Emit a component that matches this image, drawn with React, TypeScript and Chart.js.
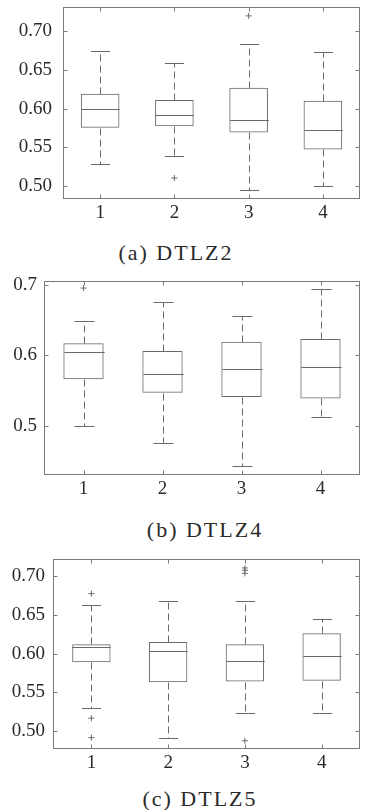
import React, { useEffect, useRef } from 'react';
import { Chart, registerables } from 'chart.js';

Chart.register(...registerables);

const categories = ['1', '2', '3', '4'];

// (a) DTLZ2
const aLow = [0.528, 0.539, 0.494, 0.500];
const aQ1 = [0.575, 0.577, 0.569, 0.547];
const aMed = [0.600, 0.592, 0.585, 0.572];
const aQ3 = [0.619, 0.611, 0.627, 0.610];
const aHigh = [0.675, 0.659, 0.683, 0.673];
const aOutCat = ['2', '3'];
const aOutVal = [0.510, 0.720];
const aTicks = [0.50, 0.55, 0.60, 0.65, 0.70];

// (b) DTLZ4
const bLow = [0.500, 0.476, 0.444, 0.513];
const bQ1 = [0.566, 0.547, 0.541, 0.539];
const bMed = [0.604, 0.574, 0.581, 0.583];
const bQ3 = [0.617, 0.606, 0.619, 0.623];
const bHigh = [0.649, 0.675, 0.655, 0.694];
const bOutCat = ['1'];
const bOutVal = [0.695];
const bTicks = [0.5, 0.6, 0.7];

// (c) DTLZ5
const cLow = [0.530, 0.491, 0.524, 0.524];
const cQ1 = [0.589, 0.563, 0.564, 0.565];
const cMed = [0.609, 0.603, 0.590, 0.597];
const cQ3 = [0.612, 0.615, 0.612, 0.626];
const cHigh = [0.662, 0.668, 0.667, 0.644];
const cOutCat = ['1', '1', '1', '3', '3', '3', '3'];
const cOutVal = [0.677, 0.517, 0.492, 0.710, 0.707, 0.703, 0.488];
const cTicks = [0.50, 0.55, 0.60, 0.65, 0.70];

const titles = ['(a) DTLZ2', '(b) DTLZ4', '(c) DTLZ5'];

const LINE = '#6a6a6a';
const FRAME = '#7a7a7a';
const TEXT = '#2a2a2a';
const FONT = 'Liberation Serif, DejaVu Serif, serif';

type Panel = {
  low: number[]; q1: number[]; med: number[]; q3: number[]; high: number[];
  outCat: string[]; outVal: number[]; ticks: number[]; decimals: number;
  yMin: number; yMax: number;
  top: number; height: number; padTop: number; padRight: number;
  yWidth: number; xHeight: number; barPct: number; labelPad: number;
  title: string; titleTop: number; titleCenter: number;
};

const panels: Panel[] = [
  {
    low: aLow, q1: aQ1, med: aMed, q3: aQ3, high: aHigh, outCat: aOutCat, outVal: aOutVal,
    ticks: aTicks, decimals: 2, yMin: 0.4828, yMax: 0.7315,
    top: 0, height: 228, padTop: 7, padRight: 1, yWidth: 63, xHeight: 29, barPct: 0.52, labelPad: 11,
    title: titles[0], titleTop: 240, titleCenter: 176,
  },
  {
    low: bLow, q1: bQ1, med: bMed, q3: bQ3, high: bHigh, outCat: bOutCat, outVal: bOutVal,
    ticks: bTicks, decimals: 1, yMin: 0.4307, yMax: 0.705,
    top: 268, height: 234, padTop: 13, padRight: 1, yWidth: 44, xHeight: 27, barPct: 0.51, labelPad: 7,
    title: titles[1], titleTop: 517, titleCenter: 205,
  },
  {
    low: cLow, q1: cQ1, med: cMed, q3: cQ3, high: cHigh, outCat: cOutCat, outVal: cOutVal,
    ticks: cTicks, decimals: 2, yMin: 0.4774, yMax: 0.7215,
    top: 545, height: 232, padTop: 14, padRight: 2, yWidth: 53, xHeight: 28, barPct: 0.5, labelPad: 8,
    title: titles[2], titleTop: 786, titleCenter: 200,
  },
];

function makePlugin(p: Panel) {
  return {
    id: 'boxExtras',
    afterDatasetsDraw(chart: any) {
      const { ctx, chartArea: ca, scales } = chart;
      const x = scales.x;
      const y = scales.y;
      const meta = chart.getDatasetMeta(0);
      const seg = (x1: number, y1: number, x2: number, y2: number) => {
        ctx.beginPath();
        ctx.moveTo(x1, y1);
        ctx.lineTo(x2, y2);
        ctx.stroke();
      };
      ctx.save();
      ctx.lineWidth = 1;
      ctx.strokeStyle = LINE;
      categories.forEach((c, i) => {
        const el = meta.data[i];
        const cx = Math.round(el.x) + 0.5;
        const hw = el.width / 2;
        const py = (v: number) => Math.round(y.getPixelForValue(v)) + 0.5;
        seg(cx - hw, py(p.med[i]), cx + hw, py(p.med[i]));
        ctx.setLineDash([7, 4]);
        seg(cx, py(p.q3[i]), cx, py(p.high[i]));
        seg(cx, py(p.q1[i]), cx, py(p.low[i]));
        ctx.setLineDash([]);
        const cw = hw / 2;
        seg(cx - cw, py(p.high[i]), cx + cw, py(p.high[i]));
        seg(cx - cw, py(p.low[i]), cx + cw, py(p.low[i]));
      });
      // frame
      ctx.strokeStyle = FRAME;
      const l = Math.round(ca.left) + 0.5;
      const r = Math.round(ca.right) - 0.5;
      const t = Math.round(ca.top) + 0.5;
      const b = Math.round(ca.bottom) - 0.5;
      ctx.strokeRect(l, t, r - l, b - t);
      // inward ticks
      const TL = 4;
      y.ticks.forEach((tk: any, i: number) => {
        const yy = Math.round(y.getPixelForTick(i)) + 0.5;
        seg(l, yy, l + TL, yy);
        seg(r, yy, r - TL, yy);
      });
      x.ticks.forEach((tk: any, i: number) => {
        const xx = Math.round(x.getPixelForTick(i)) + 0.5;
        seg(xx, b, xx, b - TL);
        seg(xx, t, xx, t + TL);
      });
      ctx.restore();
    },
  };
}

function BoxChart({ p }: { p: Panel }) {
  const ref = useRef<HTMLCanvasElement>(null);
  useEffect(() => {
    const canvas = ref.current!;
    const chart = new Chart(canvas, {
      type: 'bar',
      data: {
        labels: categories,
        datasets: [
          {
            type: 'bar',
            data: p.q1.map((q, i) => [q, p.q3[i]]) as any,
            backgroundColor: 'rgba(255,255,255,0)',
            borderColor: LINE,
            borderWidth: 1,
            borderSkipped: false,
            barPercentage: p.barPct,
            categoryPercentage: 1,
          } as any,
          {
            type: 'scatter',
            data: p.outCat.map((c, i) => ({ x: c, y: p.outVal[i] })) as any,
            pointStyle: 'cross',
            pointRadius: 3,
            borderColor: LINE,
            backgroundColor: LINE,
            borderWidth: 1,
          } as any,
        ],
      },
      options: {
        responsive: false,
        animation: false,
        events: [],
        layout: { padding: { top: p.padTop, right: p.padRight, left: 0, bottom: 0 } },
        plugins: { legend: { display: false }, tooltip: { enabled: false }, title: { display: false } },
        scales: {
          x: {
            type: 'category',
            offset: true,
            grid: { display: false, drawTicks: false },
            border: { display: false },
            ticks: { color: TEXT, font: { family: FONT, size: 19 }, padding: 3, maxRotation: 0 },
            afterFit: (s: any) => { s.height = p.xHeight; s.paddingLeft = 0; s.paddingRight = 0; },
          },
          y: {
            type: 'linear',
            min: p.yMin,
            max: p.yMax,
            grid: { display: false, drawTicks: false },
            border: { display: false },
            ticks: {
              color: TEXT,
              font: { family: FONT, size: 19 },
              padding: p.labelPad,
              callback: (v: any) => Number(v).toFixed(p.decimals),
            },
            afterBuildTicks: (s: any) => { s.ticks = p.ticks.map((v) => ({ value: v })); },
            afterFit: (s: any) => { s.width = p.yWidth; s.paddingTop = 0; s.paddingBottom = 0; },
          },
        },
      } as any,
      plugins: [makePlugin(p)],
    });
    return () => chart.destroy();
  }, [p]);
  return (
    <canvas
      ref={ref}
      width={365}
      height={p.height}
      style={{ position: 'absolute', left: 0, top: p.top, width: 365, height: p.height }}
    />
  );
}

export default function App() {
  return (
    <div style={{ position: 'absolute', left: 0, top: 0, width: 365, height: 810, background: '#fff', overflow: 'hidden' }}>
      {panels.map((p, i) => (
        <React.Fragment key={i}>
          <BoxChart p={p} />
          <div
            style={{
              position: 'absolute',
              top: p.titleTop,
              left: p.titleCenter - 100,
              width: 200,
              textAlign: 'center',
              fontFamily: FONT,
              fontSize: 22,
              lineHeight: '26px',
              letterSpacing: '2px',
              color: TEXT,
              whiteSpace: 'nowrap',
            }}
          >
            {p.title}
          </div>
        </React.Fragment>
      ))}
    </div>
  );
}
